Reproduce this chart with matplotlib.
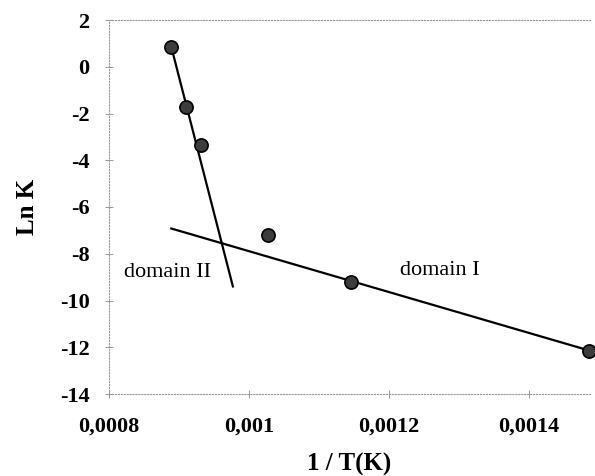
import matplotlib.pyplot as plt
import numpy as np

# data points
inv_T = [0.000889, 0.000910, 0.000931, 0.001027, 0.001146, 0.001486]
ln_K = [0.85, -1.71, -3.33, -7.18, -9.19, -12.14]

# fitted lines (end points)
dom2_x = [0.000889, 0.000977]
dom2_y = [0.85, -9.40]
dom1_x = [0.000889, 0.001486]
dom1_y = [-6.92, -12.14]

xticks = [0.0008, 0.001, 0.0012, 0.0014]
xtick_labels = ["0,0008", "0,001", "0,0012", "0,0014"]
yticks = [2, 0, -2, -4, -6, -8, -10, -12, -14]

plt.rcParams['font.family'] = ['Liberation Serif', 'DejaVu Serif']
plt.rcParams['axes.unicode_minus'] = False

fig = plt.figure(figsize=(5.95, 4.76), dpi=100)
ax = fig.add_axes([109/595, 1 - 394/476, 481/595, 374/476])

ax.plot(dom2_x, dom2_y, color="black", lw=1.6)
ax.plot(dom1_x, dom1_y, color="black", lw=1.6)
ax.plot(inv_T, ln_K, "o", ms=9.5, mfc="#3c3c3c", mec="black", mew=1.2, clip_on=False, zorder=3)

ax.text(0.001273, -8.72, "domain I", fontsize=16, ha="center", va="center")
ax.text(0.000883, -8.8, "domain II", fontsize=16, ha="center", va="center")

ax.set_xlim(0.0008, 0.0008 + 481/700000)
ax.set_ylim(-14, 2)
ax.set_xticks(xticks)
ax.set_xticklabels(xtick_labels, fontweight="bold")
ax.set_yticks(yticks)
for lab in ax.get_yticklabels():
    lab.set_fontweight("bold")
ax.tick_params(labelsize=16, direction="inout", length=6, width=0.6, color="#888888")
ax.tick_params(axis="x", pad=13)
ax.tick_params(axis="y", pad=11)

for side in ["left", "bottom", "top"]:
    ax.spines[side].set_linestyle(":")
    ax.spines[side].set_color("#999999")
    ax.spines[side].set_linewidth(0.8)
ax.spines["right"].set_visible(False)

ax.set_xlabel("1 / T(K)", fontsize=18, fontweight="bold", labelpad=12)
ax.set_ylabel("Ln K", fontsize=18, fontweight="bold", labelpad=15)

plt.savefig("out.png", dpi=100)
